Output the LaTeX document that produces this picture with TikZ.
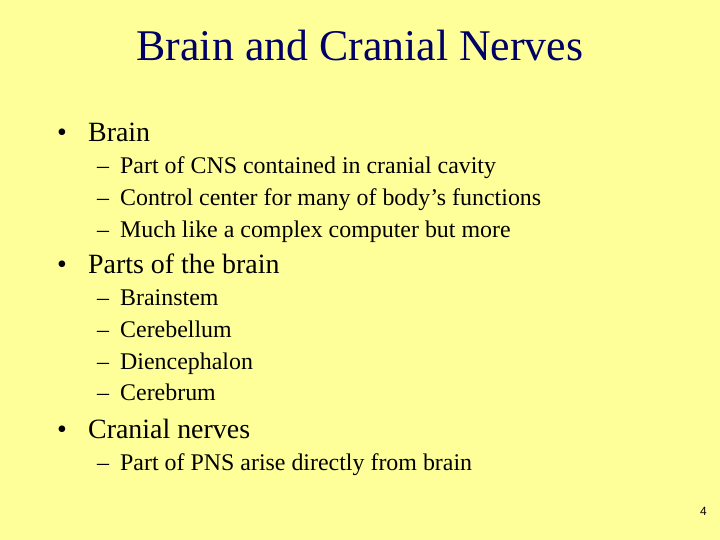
\documentclass[tikz,border=0pt]{standalone}
\usepackage{fontspec}
\setmainfont{Liberation Serif}
\newfontfamily\numfont{Liberation Sans}
\usetikzlibrary{positioning}
\definecolor{slideyellow}{RGB}{255,255,153}
\definecolor{titlenavy}{RGB}{0,0,102}

\begin{document}
\begin{tikzpicture}[x=1bp, y=-1bp,
    txt/.style={anchor=base west, inner sep=0pt},
    bullet/.style={txt, font=\fontsize{28}{32}\selectfont},
    item/.style={txt, font=\fontsize{24}{28}\selectfont}
]
\fill[slideyellow] (0,0) rectangle (720,540);
\useasboundingbox (0,0) rectangle (720,540);

% Title
\node[anchor=base, inner sep=0pt, font=\fontsize{44}{50}\selectfont, text=titlenavy] (title) at (360,61) {Brain and Cranial Nerves};

% Brain
\node[bullet] (b1) at (57,142) {\textbullet};
\node[bullet] (brain) at (88,142) {Brain};
\foreach \y/\t [count=\i] in {174/Part of CNS contained in cranial cavity,
    206/Control center for many of body’s functions,
    238/Much like a complex computer but more} {
  \node[item] (d1\i) at (97,\y) {--};
  \node[item] (brain\i) at (120,\y) {\t};
}

% Parts of the brain
\node[bullet] (b2) at (57,274) {\textbullet};
\node[bullet] (parts) at (88,274) {Parts of the brain};
\foreach \y/\t [count=\i] in {305/Brainstem, 337/Cerebellum, 369/Diencephalon, 400/Cerebrum} {
  \node[item] (d2\i) at (97,\y) {--};
  \node[item] (parts\i) at (120,\y) {\t};
}

% Cranial nerves
\node[bullet] (b3) at (57,438) {\textbullet};
\node[bullet] (cranial) at (88,438) {Cranial nerves};
\node[item] (d31) at (97,470) {--};
\node[item] (cranial1) at (120,470) {Part of PNS arise directly from brain};

% Page number
\node[anchor=base east, inner sep=0pt, font=\numfont\fontsize{12}{14}\selectfont] (page) at (707,515) {4};
\end{tikzpicture}
\end{document}
